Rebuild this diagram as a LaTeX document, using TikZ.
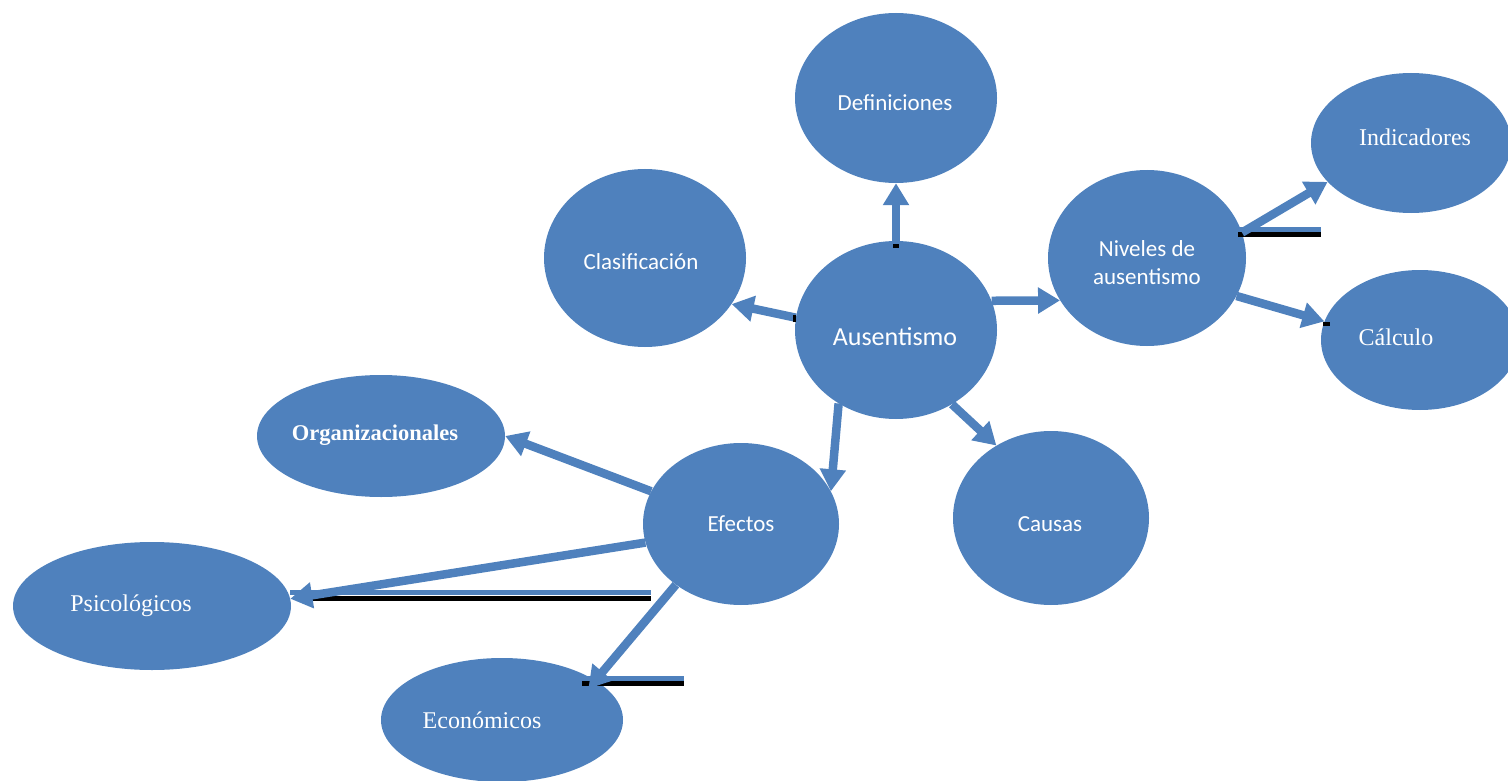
\documentclass[tikz,border=0pt]{standalone}
\usepackage{fontspec}
\setmainfont{Liberation Serif}
\newfontfamily\calib{Carlito}
\usetikzlibrary{shapes.geometric,arrows.meta}
\definecolor{blu}{HTML}{4F81BD}
\tikzset{
  bub/.style={ellipse,fill=blu,draw=none,inner sep=0pt},
  sanslbl/.style={text=white,font=\calib\fontsize{23}{28}\selectfont,align=center,inner sep=0pt},
  seriflbl/.style={text=white,font=\fontsize{24}{28}\selectfont,inner sep=0pt},
  arr/.style={draw=blu,line width=8.5pt,-{Triangle[width=25pt,length=22pt]}},
  bar/.style={draw=blu,line width=5pt},
  blk/.style={draw=black,line width=5pt},
}
\begin{document}
\begin{tikzpicture}[x=1pt,y=-1pt]
\useasboundingbox (0,0) rectangle (1508,781);
\clip (0,0) rectangle (1508,781);
% bubbles
\node[bub,minimum width=202pt,minimum height=170pt] (def) at (896,98) {};
\node[bub,minimum width=202pt,minimum height=178pt] (cla) at (645,258) {};
\node[bub,minimum width=202pt,minimum height=178pt] (aus) at (896,330) {};
\node[bub,minimum width=198pt,minimum height=176pt] (niv) at (1147,258) {};
\node[bub,minimum width=200pt,minimum height=140pt] (ind) at (1411,143) {};
\node[bub,minimum width=198pt,minimum height=140pt] (cal) at (1420,340) {};
\node[bub,minimum width=196pt,minimum height=174pt] (cau) at (1051,518) {};
\node[bub,minimum width=196pt,minimum height=162pt] (efe) at (741,524) {};
\node[bub,minimum width=248pt,minimum height=122pt] (org) at (381,436) {};
\node[bub,minimum width=278pt,minimum height=128pt] (psi) at (152,606) {};
\node[bub,minimum width=242pt,minimum height=124pt] (eco) at (502,720) {};
% labels
\node[sanslbl] (defT) at (895,103) {Definiciones};
\node[sanslbl] (claT) at (641,262) {Clasificación};
\node[sanslbl,font=\calib\fontsize{26}{30}\selectfont] (ausT) at (895,337) {Ausentismo};
\node[sanslbl] (nivT) at (1147,263) {Niveles de\\ausentismo};
\node[sanslbl] (cauT) at (1050,524) {Causas};
\node[sanslbl] (efeT) at (741,524) {Efectos};
\node[seriflbl] (indT) at (1415,137) {Indicadores};
\node[seriflbl] (calT) at (1396,337) {Cálculo};
\node[seriflbl,font=\bfseries\fontsize{22.5}{26}\selectfont] (orgT) at (375,435) {Organizacionales};
\node[seriflbl] (psiT) at (131,606) {Psicológicos};
\node[seriflbl] (ecoT) at (482,720) {Económicos};
% extra bars
\coordinate (b1a) at (1238,229); \coordinate (b1b) at (1321,229);
\coordinate (k1a) at (1238,234); \coordinate (k1b) at (1321,234);
\coordinate (b2a) at (290,592); \coordinate (b2b) at (651,592);
\coordinate (k2a) at (303,598); \coordinate (k2b) at (651,598);
\coordinate (b3a) at (582,678); \coordinate (b3b) at (684,678);
\coordinate (k3a) at (582,683); \coordinate (k3b) at (684,683);
\draw[blk] (k1a) -- (k1b);
\draw[bar] (b1a) -- (b1b);
\draw[blk] (k2a) -- (k2b);
\draw[bar] (b2a) -- (b2b);
\draw[blk] (k3a) -- (k3b);
\draw[bar] (b3a) -- (b3b);
% arrows
\draw[arr] (aus.90) -- (def.270);
\draw[arr] (aus.173) -- (cla.332);
\draw[arr] (aus.17) -- (niv.206);
\draw[arr] (niv.15) -- (ind.205);
\draw[arr] (niv.337.6) -- (cal.169);
\draw[arr] (aus.307.6) -- (cau.127);
\draw[arr] (aus.232.8) -- (efe.20);
\draw[arr] (efe.160) -- (org.0);
\draw[arr] (efe.191.5) -- (psi.3.3);
\draw[arr,shorten >=-11pt] (efe.223.5) -- (eco.23.7);
% small black marks
\fill[black] (893,244) rectangle (899,248);
\fill[black] (793,315) rectangle (796,322);
\fill[black] (1323,322) rectangle (1330,326);
\end{tikzpicture}
\end{document}
